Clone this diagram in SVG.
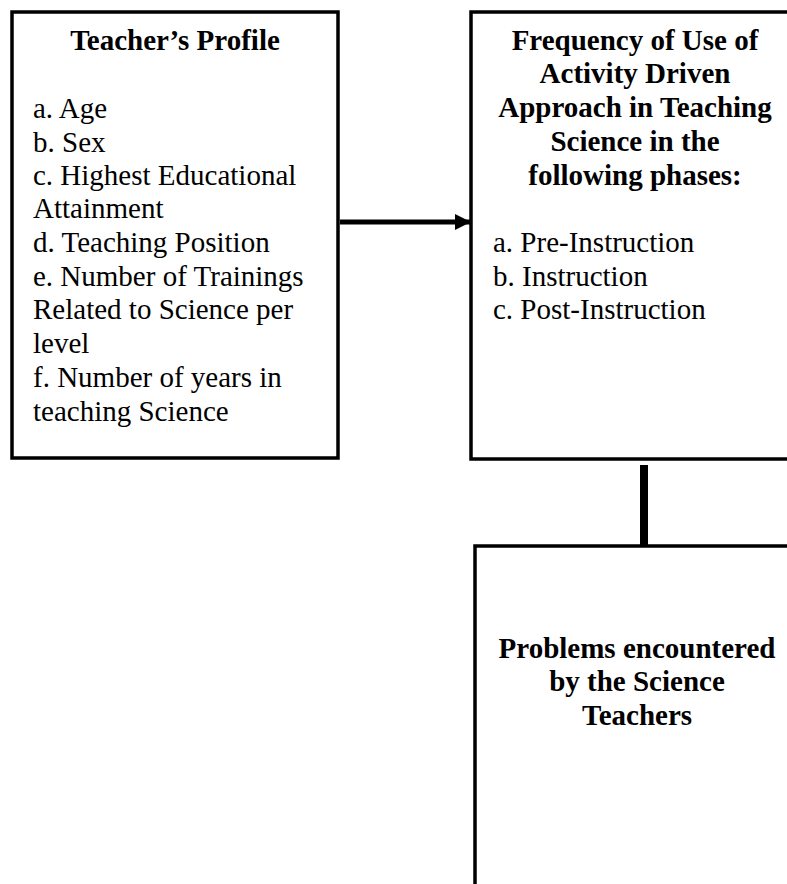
<svg xmlns="http://www.w3.org/2000/svg" width="787" height="884" viewBox="0 0 787 884">
<style>
.box{fill:#fff;stroke:#000;stroke-width:3.5}
.t{font-family:"Liberation Serif","Times New Roman",serif;font-size:29px;fill:#000}
.b{font-weight:bold;text-anchor:middle}
.conn{stroke:#000;fill:none}
</style>
<defs>
<marker id="ah" markerWidth="16" markerHeight="18" refX="15" refY="9" orient="auto" markerUnits="userSpaceOnUse" viewBox="0 0 16 18">
<path d="M0,1 L16,9 L0,17 Z" fill="#000"/>
</marker>
</defs>
<rect width="787" height="884" fill="#fff"/>
<g id="profile">
<rect class="box" x="12" y="12" width="326" height="446"/>
<text class="t b" x="175" y="50">Teacher’s Profile</text>
<text class="t" x="33" y="118">a. Age</text>
<text class="t" x="33" y="152">b. Sex</text>
<text class="t" x="33" y="185">c. Highest Educational</text>
<text class="t" x="33" y="218">Attainment</text>
<text class="t" x="33" y="252">d. Teaching Position</text>
<text class="t" x="33" y="286">e. Number of Trainings</text>
<text class="t" x="33" y="319">Related to Science per</text>
<text class="t" x="33" y="353">level</text>
<text class="t" x="33" y="387">f. Number of years in</text>
<text class="t" x="33" y="421">teaching Science</text>
</g>
<g id="frequency">
<rect class="box" x="471" y="12" width="330" height="447"/>
<text class="t b" x="635" y="50">Frequency of Use of</text>
<text class="t b" x="635" y="83">Activity Driven</text>
<text class="t b" x="635" y="117">Approach in Teaching</text>
<text class="t b" x="635" y="151">Science in the</text>
<text class="t b" x="635" y="185">following phases:</text>
<text class="t" x="493" y="252">a. Pre-Instruction</text>
<text class="t" x="493" y="286">b. Instruction</text>
<text class="t" x="493" y="319">c. Post-Instruction</text>
</g>
<g id="problems">
<rect class="box" x="475" y="546" width="330" height="360"/>
<text class="t b" x="637" y="658">Problems encountered</text>
<text class="t b" x="637" y="691">by the Science</text>
<text class="t b" x="637" y="725">Teachers</text>
</g>
<g id="connectors">
<line class="conn" x1="340" y1="222" x2="470" y2="222" stroke-width="5" marker-end="url(#ah)"/>
<line class="conn" x1="644" y1="465" x2="644" y2="545" stroke-width="8"/>
</g>
</svg>
